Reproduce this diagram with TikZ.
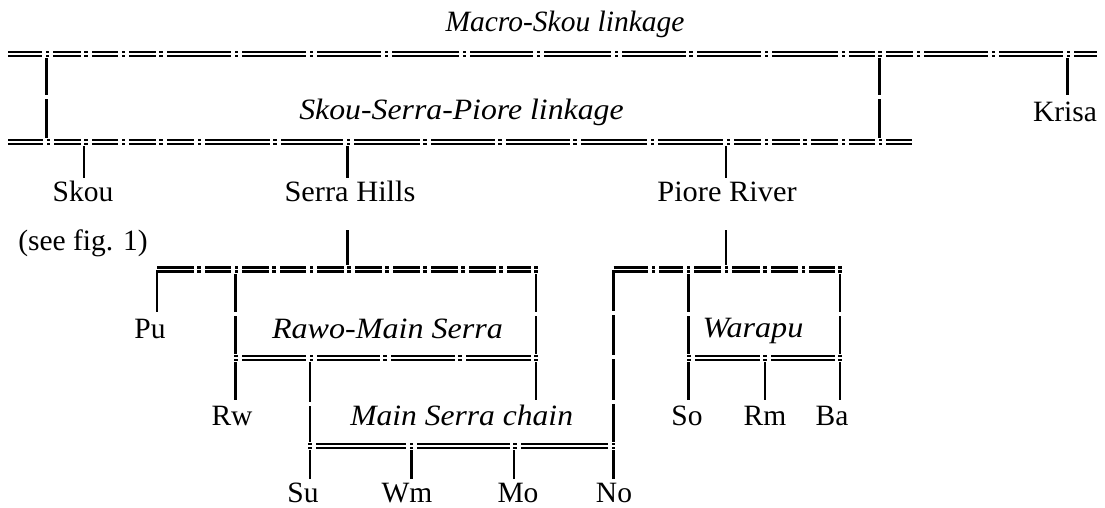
\documentclass[tikz,border=0pt]{standalone}
\usepackage{fontspec}
\setmainfont{Liberation Serif}
\tikzset{
  lbl/.style={anchor=base, inner sep=0pt, font=\fontsize{29.5}{35}\selectfont},
  ilbl/.style={anchor=base, inner sep=0pt, font=\fontsize{29.5}{35}\selectfont\itshape},
  tickline/.style={line width=2.2pt},
  dbl/.style={line width=2.2pt, double=white, double distance=1.8pt},
}
\newcommand{\gapsH}[2]{%
  \foreach \xx in {#2}{
    \fill[white] (\xx-5.5,#1-4.2) rectangle (\xx+5.5,#1+4.2);
    \fill[black] (\xx-1.6,#1-3.1) rectangle (\xx+1.6,#1-0.9);
    \fill[black] (\xx-1.6,#1+0.9) rectangle (\xx+1.6,#1+3.1);
  }}
\newcommand{\gapsV}[2]{%
  \foreach \yy in {#2}{\fill[white] (#1-2,\yy-2) rectangle (#1+2,\yy+2);}}
\begin{document}
\begin{tikzpicture}[x=1pt,y=-1pt]
\useasboundingbox (0,0) rectangle (1105,508);
% ---------- labels ----------
\node[ilbl] (macro) at (565,32) {Macro-Skou linkage};
\node[ilbl] (ssp) at (461.5,120) {\scalebox{1.077}[1]{Skou-Serra-Piore linkage}};
\node[lbl] (krisa) at (1065,122) {Krisa};
\node[lbl] (skou) at (83,201) {Skou};
\node[lbl] (seefig) at (83,250) {(see fig. 1)};
\node[lbl] (serra) at (350,201) {\scalebox{1.03}[1]{Serra Hills}};
\node[lbl] (piore) at (727,201) {\scalebox{1.03}[1]{Piore River}};
\node[lbl] (pu) at (150,338) {Pu};
\node[ilbl] (rawo) at (387.5,338) {\scalebox{1.088}[1]{Rawo-Main Serra}};
\node[ilbl] (warapu) at (753,337) {\scalebox{1.09}[1]{Warapu}};
\node[lbl] (rw) at (232,425) {Rw};
\node[ilbl] (chain) at (461.7,425) {\scalebox{1.07}[1]{Main Serra chain}};
\node[lbl] (so) at (687,425) {So};
\node[lbl] (rm) at (765,425) {Rm};
\node[lbl] (ba) at (832,425) {Ba};
\node[lbl] (su) at (303,502) {Su};
\node[lbl] (wm) at (407,502) {Wm};
\node[lbl] (mo) at (518,502) {Mo};
\node[lbl] (no) at (614,502) {No};
% ---------- coordinates ----------
\coordinate (L1a) at (8,54.2);    \coordinate (L1b) at (1097,54.2);
\coordinate (L2a) at (8,142.2);   \coordinate (L2b) at (912,142.2);
\coordinate (L3a) at (157,269.5); \coordinate (L3b) at (537,269.5);
\coordinate (L4a) at (613.5,269.5); \coordinate (L4b) at (841,269.5);
\coordinate (Ra) at (235,357.8);  \coordinate (Rb) at (537,357.8);
\coordinate (Wa) at (688.5,358);  \coordinate (Wb) at (841,358);
\coordinate (Ca) at (309.5,446.2); \coordinate (Cb) at (614.5,446.2);
% vertical end points
\coordinate (v1t) at (46.5,54.2);  \coordinate (v1b) at (46.5,142.2);
\coordinate (v2t) at (879.5,54.2); \coordinate (v2b) at (879.5,142.2);
\coordinate (kt) at (1067.5,54.2); \coordinate (kb) at (1067.5,95);
\coordinate (skt) at (84,142.2);   \coordinate (skb) at (84,178);
\coordinate (st1) at (347.5,142.2); \coordinate (sb1) at (347.5,178);
\coordinate (st2) at (347.5,230);   \coordinate (sb2) at (347.5,269.5);
\coordinate (pt1) at (726,142.2);  \coordinate (pb1) at (726,178);
\coordinate (pt2) at (726,230);    \coordinate (pb2) at (726,269.5);
\coordinate (put) at (157,269.5);  \coordinate (pub) at (157,312);
\coordinate (rlt) at (235.5,269.5); \coordinate (rlb) at (235.5,400);
\coordinate (rrt) at (536,269.5);  \coordinate (rrb) at (536,400);
\coordinate (clt) at (310,357.8);  \coordinate (clb) at (310,479);
\coordinate (wmt) at (411.5,446.2); \coordinate (wmb) at (411.5,479);
\coordinate (mot) at (514,446.2);  \coordinate (mob) at (514,479);
\coordinate (not) at (613.5,269.5); \coordinate (nob) at (613.5,479);
\coordinate (wlt) at (688.5,269.5); \coordinate (wlb) at (688.5,400);
\coordinate (rmt) at (765,358);    \coordinate (rmb) at (765,400);
\coordinate (wrt) at (840,269.5);  \coordinate (wrb) at (840,400);
% ---------- vertical lines ----------
\draw[tickline] (v1t) -- (v1b);  \gapsV{46.5}{97}
\draw[tickline] (v2t) -- (v2b);  \gapsV{879.5}{97}
\draw[tickline] (kt) -- (kb);
\draw[tickline] (skt) -- (skb);
\draw[tickline] (st1) -- (sb1);
\draw[tickline] (st2) -- (sb2);
\draw[tickline] (pt1) -- (pb1);
\draw[tickline] (pt2) -- (pb2);
\draw[tickline] (put) -- (pub);
\draw[tickline] (rlt) -- (rlb);  \gapsV{235.5}{314}
\draw[tickline] (rrt) -- (rrb);  \gapsV{536}{314}
\draw[tickline] (clt) -- (clb);  \gapsV{310}{403.5}
\draw[tickline] (wmt) -- (wmb);
\draw[tickline] (mot) -- (mob);
\draw[tickline] (not) -- (nob);  \gapsV{613.5}{313,357,402}
\draw[tickline] (wlt) -- (wlb);  \gapsV{688.5}{314}
\draw[tickline] (rmt) -- (rmb);
\draw[tickline] (wrt) -- (wrb);  \gapsV{840}{314}
% ---------- double (linkage) lines ----------
\draw[dbl] (L1a) -- (L1b);
\gapsH{54.2}{47.7,86,123.3,161,236.7,311.7,386.7,464.3,538.3,616.7,691,766.7,843.3,880,918.3,993.3,1068.3}
\draw[dbl] (L2a) -- (L2b);
\gapsH{142.2}{48.3,86,123.3,161,199.3,275,348.3,425,500,575,652.7,728.3,766.7,805,843.3,880.7}
\draw[dbl] (L3a) -- (L3b);
\gapsH{269.5}{199,236.5,274,311.5,349,387,425,463,501,536}
\draw[dbl] (L4a) -- (L4b);
\gapsH{269.5}{653.3,688.3,726.7,765,803.3,840}
\draw[dbl] (Ra) -- (Rb);
\gapsH{357.8}{236,311.7,385,460,536}
\draw[dbl] (Wa) -- (Wb);
\gapsH{358}{689,765,840}
\draw[dbl] (Ca) -- (Cb);
\gapsH{446.2}{310,411.7,515,613.5}
\end{tikzpicture}
\end{document}
